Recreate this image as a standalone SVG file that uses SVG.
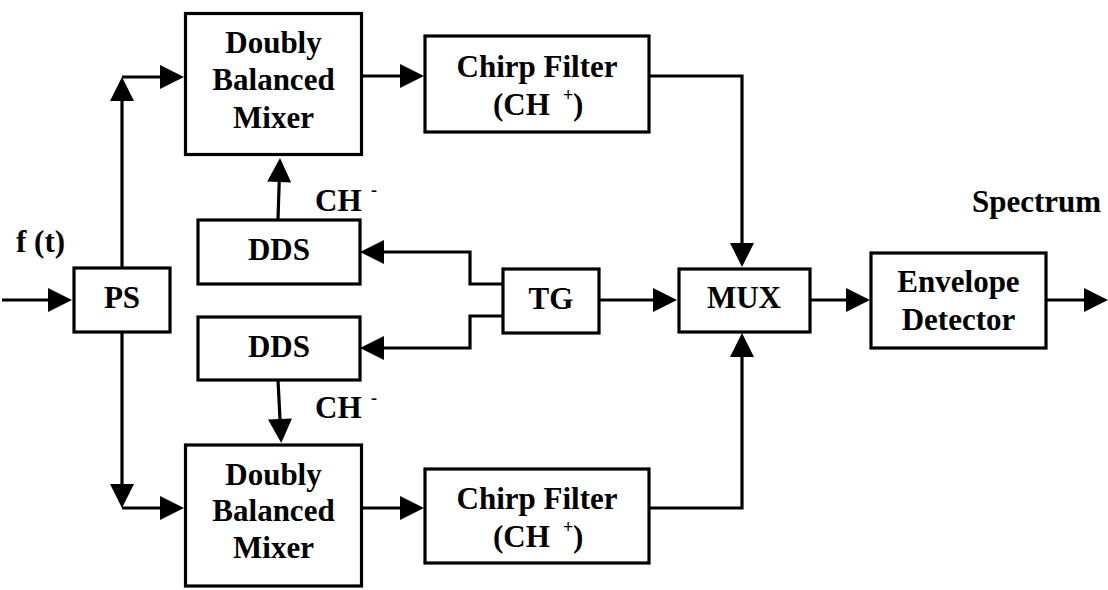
<svg xmlns="http://www.w3.org/2000/svg" width="1108" height="590" viewBox="0 0 1108 590">
<style>
.box{fill:#fff;stroke:#000;stroke-width:3.2}
.t{font-family:"Liberation Serif","Times New Roman",serif;font-weight:bold;font-size:31px;fill:#000}
.m{text-anchor:middle}
.sup{font-size:18px}
.c{fill:none;stroke:#000;stroke-width:3.2;marker-end:url(#ah)}
</style>
<defs>
<marker id="ah" markerUnits="userSpaceOnUse" markerWidth="25" markerHeight="24" refX="0" refY="12" orient="auto" overflow="visible">
<path d="M0,0 L24,12 L0,24 z" fill="#000"/>
</marker>
</defs>
<rect width="1108" height="590" fill="#fff"/>
<g id="connectors">
<path class="c" d="M2,300 H48"/>
<path class="c" d="M122,267 V101"/>
<path class="c" d="M122,77 H160"/>
<path class="c" d="M122,332 V484"/>
<path class="c" d="M122,508 H160"/>
<path class="c" d="M278,219 L279.2,182"/>
<path class="c" d="M278,380 L280,419"/>
<path class="c" d="M362,76 H400"/>
<path class="c" d="M362,508 H400"/>
<path class="c" d="M650,76 H742 V243"/>
<path class="c" d="M650,508 H742 V357"/>
<path class="c" d="M502,284 H470 V252 H384"/>
<path class="c" d="M502,316 H470 V348 H384"/>
<path class="c" d="M599,300 H653"/>
<path class="c" d="M810,300 H846"/>
<path class="c" d="M1047,300 H1084"/>
</g>
<g id="ps"><rect class="box" x="74" y="268" width="96" height="64"/><text class="t m" x="122" y="308">PS</text></g>
<g id="mixer-top"><rect class="box" x="185.5" y="13.5" width="176" height="141"/>
<text class="t m" x="273.5" y="53">Doubly</text><text class="t m" x="273.5" y="90">Balanced</text><text class="t m" x="273.5" y="128">Mixer</text></g>
<g id="dds-top"><rect class="box" x="198" y="220" width="162" height="64"/><text class="t m" x="279" y="260">DDS</text></g>
<g id="dds-bottom"><rect class="box" x="198" y="317" width="162" height="63"/><text class="t m" x="279" y="357">DDS</text></g>
<g id="mixer-bottom"><rect class="box" x="185.5" y="445" width="176" height="141"/>
<text class="t m" x="273.5" y="485">Doubly</text><text class="t m" x="273.5" y="521">Balanced</text><text class="t m" x="273.5" y="558">Mixer</text></g>
<g id="chirp-top"><rect class="box" x="425" y="36" width="224" height="96"/>
<text class="t m" x="537" y="77">Chirp Filter</text>
<text class="t" x="493" y="115">(CH<tspan class="sup" x="563" y="101">+</tspan><tspan x="573" y="115">)</tspan></text></g>
<g id="chirp-bottom"><rect class="box" x="425" y="469" width="224" height="94"/>
<text class="t m" x="537" y="509">Chirp Filter</text>
<text class="t" x="493" y="547">(CH<tspan class="sup" x="563" y="533">+</tspan><tspan x="573" y="547">)</tspan></text></g>
<g id="tg"><rect class="box" x="503" y="269" width="96" height="64"/><text class="t m" x="551" y="309">TG</text></g>
<g id="mux"><rect class="box" x="679" y="269" width="131" height="63"/><text class="t m" x="744" y="308">MUX</text></g>
<g id="envelope"><rect class="box" x="871" y="253" width="175" height="95"/>
<text class="t m" x="958.5" y="292">Envelope</text><text class="t m" x="958.5" y="330">Detector</text></g>
<g id="labels">
<text class="t" x="16" y="252">f (t)</text>
<text class="t" x="972" y="212">Spectrum</text>
<text class="t" x="315" y="211">CH<tspan class="sup" x="371" y="196">-</tspan></text>
<text class="t" x="315" y="418">CH<tspan class="sup" x="371" y="404">-</tspan></text>
</g>
</svg>
